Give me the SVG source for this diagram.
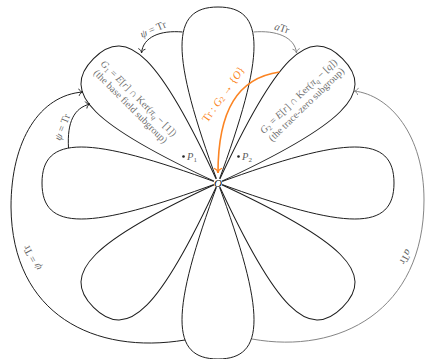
<svg xmlns="http://www.w3.org/2000/svg" width="425" height="359" viewBox="0 0 425 359">
<style>
.petal{fill:none;stroke:#1e1e1e;stroke-width:1}
.blk{fill:none;stroke:#1e1e1e;stroke-width:1}
.gry{fill:none;stroke:#858585;stroke-width:1}
.org{fill:none;stroke:#fb8423;stroke-width:1.6}
text{font-family:"Liberation Serif","DejaVu Serif",serif}
.pt{font-size:10px;fill:#707070}
.lb{font-size:10.5px;fill:#606060}
.ol{font-size:11px;fill:#fb8423}
.it{font-style:italic}
</style>
<defs>
<path id="petalShape" d="M0,0 C130,-48 176,-48 176,0 C176,48 130,48 0,0 Z"/>
<marker id="ab" viewBox="-6 -5 8 10" markerWidth="8" markerHeight="10" refX="0" refY="0" orient="auto" markerUnits="userSpaceOnUse">
<path d="M-4,-3.2 C-3.4,-1.2 -1.4,-0.2 0,0 C-1.4,0.2 -3.4,1.2 -4,3.2" fill="none" stroke="#1e1e1e" stroke-width="0.9" stroke-linecap="round"/>
</marker>
<marker id="ag" viewBox="-6 -5 8 10" markerWidth="8" markerHeight="10" refX="0" refY="0" orient="auto" markerUnits="userSpaceOnUse">
<path d="M-4,-3.2 C-3.4,-1.2 -1.4,-0.2 0,0 C-1.4,0.2 -3.4,1.2 -4,3.2" fill="none" stroke="#858585" stroke-width="0.9" stroke-linecap="round"/>
</marker>
<marker id="ao" viewBox="-6 -5 8 10" markerWidth="8" markerHeight="10" refX="0" refY="0" orient="auto" markerUnits="userSpaceOnUse">
<path d="M-4.5,-3.6 C-3.8,-1.4 -1.6,-0.2 0,0 C-1.6,0.2 -3.8,1.4 -4.5,3.6" fill="none" stroke="#fb8423" stroke-width="1.3" stroke-linecap="round"/>
</marker>
</defs>

<g id="petal-top"><use href="#petalShape" class="petal" transform="translate(218,183) rotate(-90)"/></g>
<g id="petal-upper-right"><use href="#petalShape" class="petal" transform="translate(218,183) rotate(-45)"/></g>
<g id="petal-right"><use href="#petalShape" class="petal" transform="translate(218,183) rotate(0)"/></g>
<g id="petal-lower-right"><use href="#petalShape" class="petal" transform="translate(218,183) rotate(45)"/></g>
<g id="petal-bottom"><use href="#petalShape" class="petal" transform="translate(218,183) rotate(90)"/></g>
<g id="petal-lower-left"><use href="#petalShape" class="petal" transform="translate(218,183) rotate(135)"/></g>
<g id="petal-left"><use href="#petalShape" class="petal" transform="translate(218,183) rotate(180)"/></g>
<g id="petal-upper-left"><use href="#petalShape" class="petal" transform="translate(218,183) rotate(-135)"/></g>

<g id="G1-label" transform="translate(135,102) rotate(45)">
<text class="pt" x="0" y="-2" text-anchor="middle"><tspan class="it">G</tspan><tspan font-size="7" dy="2">1</tspan><tspan dy="-2"> = </tspan><tspan class="it">E</tspan>[<tspan class="it">r</tspan>] ∩ Ker(<tspan class="it">π</tspan><tspan class="it" font-size="7" dy="2">q</tspan><tspan dy="-2"> − [1])</tspan></text>
<text class="pt" x="0" y="9.5" text-anchor="middle">(the base field subgroup)</text>
</g>

<g id="G2-label" transform="translate(302,100) rotate(-44)">
<text class="pt" x="0" y="-2" text-anchor="middle"><tspan class="it">G</tspan><tspan font-size="7" dy="2">2</tspan><tspan dy="-2"> = </tspan><tspan class="it">E</tspan>[<tspan class="it">r</tspan>] ∩ Ker(<tspan class="it">π</tspan><tspan class="it" font-size="7" dy="2">q</tspan><tspan dy="-2"> − [</tspan><tspan class="it">q</tspan>])</text>
<text class="pt" x="0" y="9.5" text-anchor="middle">(the trace-zero subgroup)</text>
</g>

<g id="P1">
<circle cx="183.5" cy="156.5" r="1.3" fill="#222"/>
<text class="lb" x="187" y="160" fill="#333"><tspan class="it">P</tspan><tspan font-size="7" dy="2">1</tspan></text>
</g>
<g id="P2">
<circle cx="238.5" cy="156.5" r="1.3" fill="#222"/>
<text class="lb" x="242" y="160" fill="#333"><tspan class="it">P</tspan><tspan font-size="7" dy="2">2</tspan></text>
</g>

<g id="connectors">
<path class="blk" d="M182.5,32 C160,30 143,37 141.5,53" marker-end="url(#ab)"/>
<path class="gry" d="M253.5,32 C276,30 295,37 296.5,53" marker-end="url(#ag)"/>
<path class="blk" d="M68.5,148 C67,122 74,108 90,104" marker-end="url(#ab)"/>
<path class="blk" d="M185,340 C95,355 12,315 11,207 C11,140 40,95 83,92" marker-end="url(#ab)"/>
<path class="gry" d="M252,339 C340,355 424,310 424,200 C424,135 390,95 354,91" marker-end="url(#ag)"/>
<path class="org" d="M279.5,72 C238,78 218,110 218,173" marker-end="url(#ao)"/>
<text class="lb" transform="translate(153,29) rotate(-23)" text-anchor="middle" dominant-baseline="central"><tspan class="it">ψ</tspan> = Tr</text>
<text class="lb" transform="translate(282,28) rotate(20)" text-anchor="middle" dominant-baseline="central"><tspan class="it">a</tspan>Tr</text>
<text class="lb" transform="translate(62,127) rotate(-68)" text-anchor="middle" dominant-baseline="central"><tspan class="it">ψ</tspan> = Tr</text>
<text class="lb" transform="translate(32,258) rotate(241)" text-anchor="middle" dominant-baseline="central"><tspan class="it">ψ</tspan> = Tr</text>
<text class="lb" transform="translate(406,257) rotate(119)" text-anchor="middle" dominant-baseline="central"><tspan class="it">a</tspan>Tr</text>
<text class="ol" transform="translate(223,94) rotate(-55)" text-anchor="middle" dominant-baseline="central">Tr : <tspan class="it">G</tspan><tspan font-size="7.5" dy="2">2</tspan><tspan dy="-2"> → {</tspan><tspan class="it">O</tspan>}</text>
</g>

<g id="O">
<circle cx="218" cy="183" r="4.5" fill="#fff"/>
<text x="218" y="186.5" font-size="11" class="it" text-anchor="middle" fill="#111">O</text>
</g>
</svg>
